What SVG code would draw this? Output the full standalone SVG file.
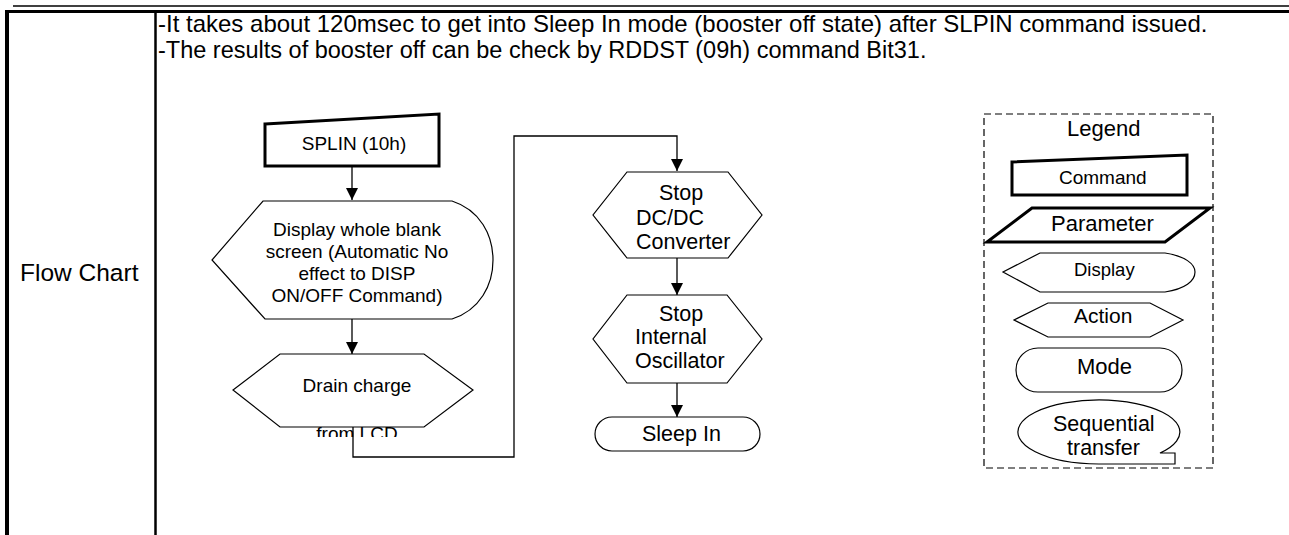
<svg xmlns="http://www.w3.org/2000/svg" width="1289" height="535" viewBox="0 0 1289 535">
<style>
text{font-family:"Liberation Sans",Arial,sans-serif;fill:#000}
.sh{fill:#fff;stroke:#000;stroke-width:1.2}
.cmd{fill:#fff;stroke:#000;stroke-width:3}
.ln{fill:none;stroke:#000;stroke-width:1.3}
</style>
<defs>
<marker id="ah" markerWidth="12" markerHeight="14" refX="12" refY="7" orient="auto" markerUnits="userSpaceOnUse">
<path d="M0,1 L12,7 L0,13 Z" fill="#000"/>
</marker>
<clipPath id="clipLCD"><rect x="250" y="420" width="220" height="17"/></clipPath>
</defs>
<rect width="1289" height="535" fill="#fff"/>
<g id="table">
<line x1="13" y1="6" x2="1289" y2="6" stroke="#000" stroke-width="1.4"/>
<line x1="5" y1="11.5" x2="1289" y2="11.5" stroke="#000" stroke-width="3"/>
<line x1="7" y1="10" x2="7" y2="535" stroke="#000" stroke-width="4"/>
<line x1="155.5" y1="12" x2="155.5" y2="535" stroke="#000" stroke-width="2.5"/>
<text x="158" y="31.5" font-size="24">-It takes about 120msec to get into Sleep In mode (booster off state) after SLPIN command issued.</text>
<text x="158" y="58" font-size="23.5">-The results of booster off can be check by RDDST (09h) command Bit31.</text>
<text x="20" y="281" font-size="24.5">Flow Chart</text>
</g>
<g id="connectors">
<line class="ln" x1="352" y1="166" x2="352" y2="200" marker-end="url(#ah)"/>
<line class="ln" x1="352" y1="319" x2="352" y2="354" marker-end="url(#ah)"/>
<polyline class="ln" points="353,427 353,457 514,457 514,136 677,136 677,171" marker-end="url(#ah)"/>
<line class="ln" x1="677" y1="258" x2="677" y2="295" marker-end="url(#ah)"/>
<line class="ln" x1="677" y1="383" x2="677" y2="417" marker-end="url(#ah)"/>
</g>
<g id="n-splin">
<path class="cmd" d="M265,124 L439,114 L439,166 L265,166 Z"/>
<text x="354" y="150" font-size="19" text-anchor="middle">SPLIN (10h)</text>
</g>
<g id="n-display">
<path class="sh" d="M263,201 L452,201 C480,210 493,235 493,260 C493,285 480,310 452,319 L265,319 L212,260 Z"/>
<text x="357" y="236" font-size="19" text-anchor="middle">Display whole blank</text>
<text x="357" y="258" font-size="19" text-anchor="middle">screen (Automatic No</text>
<text x="357" y="280" font-size="19" text-anchor="middle">effect to DISP</text>
<text x="357" y="302" font-size="19" text-anchor="middle">ON/OFF Command)</text>
</g>
<g id="n-drain">
<path class="sh" d="M280,354 L424,354 L473,390 L424,427 L280,427 L233,390 Z"/>
<text x="357" y="392" font-size="19" text-anchor="middle">Drain charge</text>
<text x="357" y="440" font-size="19" text-anchor="middle" clip-path="url(#clipLCD)">from LCD</text>
</g>
<g id="n-dcdc">
<path class="sh" d="M627,172 L728,172 L762,215 L728,258 L627,258 L593,215 Z"/>
<text x="659" y="200" font-size="21.5">Stop</text>
<text x="636" y="225" font-size="21.5">DC/DC</text>
<text x="636" y="249" font-size="21.5">Converter</text>
</g>
<g id="n-osc">
<path class="sh" d="M627,295 L727,295 L762,339 L727,383 L627,383 L593,339 Z"/>
<text x="659" y="321" font-size="21.5">Stop</text>
<text x="635" y="344" font-size="21.5">Internal</text>
<text x="635" y="368" font-size="21.5">Oscillator</text>
</g>
<g id="n-sleep">
<rect class="sh" x="595" y="417" width="165" height="34" rx="17" ry="17"/>
<text x="642" y="441" font-size="21.5">Sleep In</text>
</g>
<g id="legend">
<rect x="984" y="114" width="229" height="354" fill="none" stroke="#000" stroke-width="1.2" stroke-dasharray="7,4"/>
<text x="1067" y="136" font-size="22">Legend</text>
<g id="lg-command">
<path class="cmd" d="M1012,162 L1187,155 L1187,195 L1012,195 Z"/>
<text x="1059" y="184" font-size="19">Command</text>
</g>
<g id="lg-parameter">
<path class="cmd" d="M1032,208 L1210,208 L1165,242 L987,242 Z"/>
<text x="1051" y="231" font-size="22">Parameter</text>
</g>
<g id="lg-display">
<path class="sh" d="M1040,253 L1165,253 C1185,256 1195,264 1195,272 C1195,281 1185,289 1165,292 L1040,292 L1003,272 Z"/>
<text x="1074" y="276" font-size="18.5">Display</text>
</g>
<g id="lg-action">
<path class="sh" d="M1048,303 L1150,303 L1183,320 L1150,337 L1048,337 L1014,320 Z"/>
<text x="1074" y="323" font-size="21">Action</text>
</g>
<g id="lg-mode">
<rect class="sh" x="1016" y="348" width="166" height="44" rx="22" ry="22"/>
<text x="1077" y="374" font-size="22">Mode</text>
</g>
<g id="lg-seq">
<path class="sh" d="M1160,453 A81,32 0 1 0 1099,464 L1175,464 L1175,453 Z"/>
<text x="1053" y="431" font-size="21.5">Sequential</text>
<text x="1067" y="455" font-size="21.5">transfer</text>
</g>
</g>
</svg>
